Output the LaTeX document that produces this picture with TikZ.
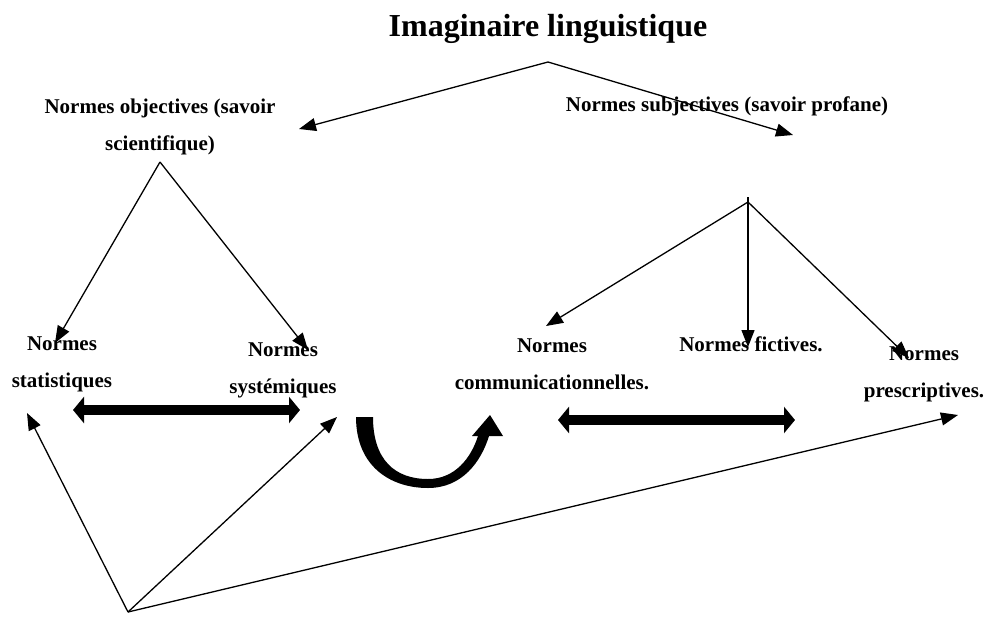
\documentclass[tikz,border=0pt]{standalone}
\usepackage{fontspec}
\setmainfont{Liberation Serif}
\usetikzlibrary{arrows.meta}
\begin{document}
\begin{tikzpicture}[x=1pt, y=-1pt,
	norme/.style={font=\bfseries\fontsize{21}{37}\selectfont, align=center, inner sep=0pt},
	fleche/.style={line width=1.3pt, -{Triangle[length=17pt, width=13pt]}},
	grosse/.style={line width=10pt, {Triangle[length=11pt, width=26pt]}-{Triangle[length=11pt, width=26pt]}}]
\useasboundingbox (0,0) rectangle (987,616);

\node[font=\bfseries\fontsize{32}{36}\selectfont, anchor=base] (T) at (548,36) {Imaginaire linguistique};
\node[norme] (O) at (160,127) {Normes objectives (savoir\\scientifique)};
\node[norme] (S) at (727,106) {Normes subjectives (savoir profane)};
\node[norme] (O1) at (62,364) {Normes\\statistiques};
\node[norme] (O2) at (283,370) {Normes\\systémiques};
\node[norme] (S1) at (552,364) {Normes\\communicationnelles.};
\node[norme] (S2) at (751,344) {Normes fictives.};
\node[norme] (S3) at (924,374) {Normes\\prescriptives.};

\coordinate (0) at (548,62);
\coordinate (1) at (160,162);
\coordinate (2) at (748,202);
\coordinate (3) at (128,612);

\draw[fleche] (0) -- (299,129);
\draw[fleche] (0) -- (793,135);
\draw[fleche] (1) -- (55,343);
\draw[fleche] (1) -- (308,350);
\draw[fleche] (2) -- (546,326);
\draw[fleche] (748,197) -- (748,347);
\draw[fleche] (2) -- (909,358);
\draw[fleche] (3) -- (27,413);
\draw[fleche] (3) -- (337,417);
\draw[fleche] (3) -- (958,415);

\draw[grosse] (73,410) -- (300,410);
\draw[grosse] (558,420) -- (795,420);

\fill (356,417) .. controls (356,466) and (390,488) .. (428,488)
	.. controls (462,488) and (481,462) .. (489,436) -- (503,436) -- (490,415) -- (472,436) -- (478,436)
	.. controls (471,458) and (455,479) .. (428,479)
	.. controls (395,479) and (373,460) .. (373,417) -- cycle;
\end{tikzpicture}
\end{document}
